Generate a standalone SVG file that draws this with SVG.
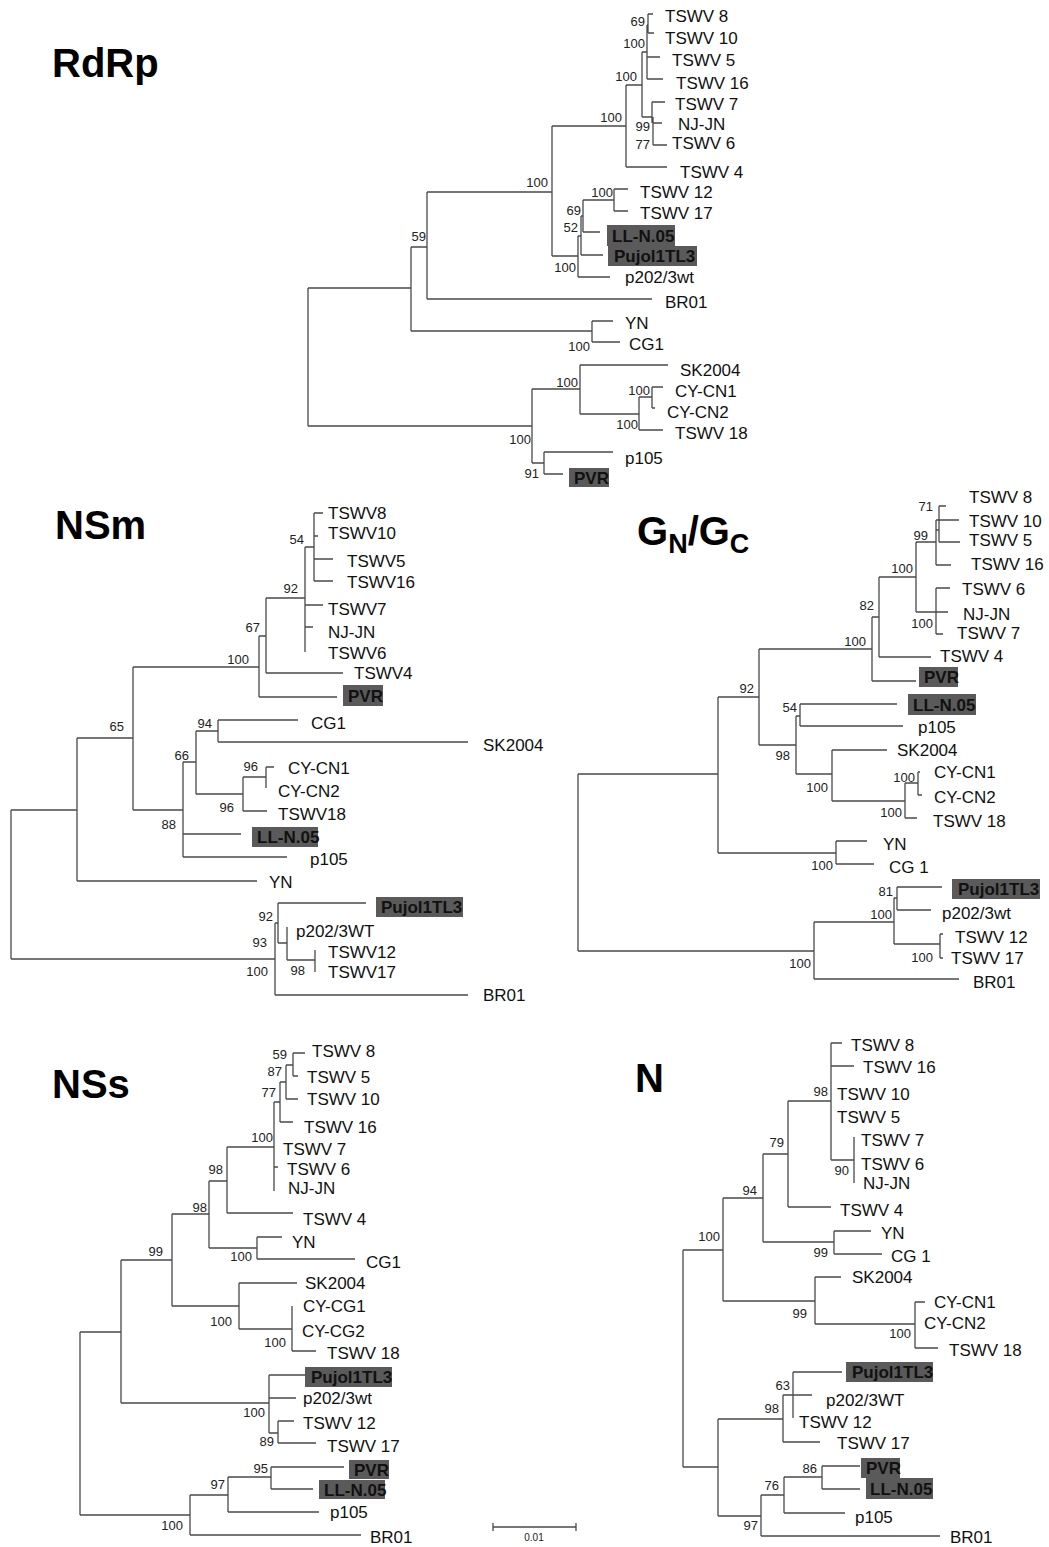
<svg xmlns="http://www.w3.org/2000/svg" width="1049" height="1547" viewBox="0 0 1049 1547">
<style>
.e{fill:none;stroke:#4a4a4a;stroke-width:1.3}
.l{font-family:"Liberation Sans",Arial,sans-serif;font-size:17px;fill:#111}
.s{font-family:"Liberation Sans",Arial,sans-serif;font-size:13px;fill:#222;text-anchor:end}
.b{fill:#5a5a5a}
.hb{font-family:"Liberation Sans",Arial,sans-serif;font-size:17px;font-weight:bold;fill:#111}
.t{font-family:"Liberation Sans",Arial,sans-serif;font-size:40px;font-weight:bold;fill:#000}
</style>
<rect width="1049" height="1547" fill="#fff"/>

<!-- ================= RdRp ================= -->
<g id="rdrp">
<text class="t" x="52" y="77" font-size="43">RdRp</text>
<g id="rdrp-connectors">
<path class="e" d="M308 288V426M308 288H411M411 247V331M411 247H427M427 192V299M427 192H552M427 299H652M552 126V256M552 126H626M626 85V167M626 85H642M626 167H667M642 52V117M642 52H647M647 25V79M647 25H648M648 14V33M648 14H653M648 33H654M647 57H660M647 79H663M642 117H652M652 102V123M652 102H665M653 117V145M653 123H662M653 145H667M552 256H578M578 236V277M578 236H581M581 216V255M581 216H583M583 200V232M583 200H614M614 189V211M614 189H628M614 211H628M583 232H600M581 255H603M578 277H610M411 331H592M592 321V342M592 321H613M592 342H620M308 426H532M532 389V463M532 389H580M580 365V414M580 365H668M580 414H639M639 397V430M639 397H652M652 387V408M652 387H663M652 408H655M639 430H663M532 463H544M544 452V474M544 452H613M544 474H563"/>
</g>
<g id="rdrp-TSWV8"><text class="l" x="665" y="22">TSWV 8</text></g>
<g id="rdrp-TSWV10"><text class="l" x="665" y="44">TSWV 10</text></g>
<g id="rdrp-TSWV5"><text class="l" x="672" y="66">TSWV 5</text></g>
<g id="rdrp-TSWV16"><text class="l" x="676" y="89">TSWV 16</text></g>
<g id="rdrp-TSWV7"><text class="l" x="675" y="110">TSWV 7</text></g>
<g id="rdrp-NJJN"><text class="l" x="678" y="130">NJ-JN</text></g>
<g id="rdrp-TSWV6"><text class="l" x="672" y="149">TSWV 6</text></g>
<g id="rdrp-TSWV4"><text class="l" x="680" y="178">TSWV 4</text></g>
<g id="rdrp-TSWV12"><text class="l" x="640" y="198">TSWV 12</text></g>
<g id="rdrp-TSWV17"><text class="l" x="640" y="219">TSWV 17</text></g>
<g id="rdrp-LLN05"><rect class="b" x="607" y="225" width="68" height="21"/><text class="hb" x="612" y="242">LL-N.05</text></g>
<g id="rdrp-Pujol1TL3"><rect class="b" x="608" y="246" width="89" height="20"/><text class="hb" x="614" y="262">Pujol1TL3</text></g>
<g id="rdrp-p202"><text class="l" x="625" y="283">p202/3wt</text></g>
<g id="rdrp-BR01"><text class="l" x="665" y="308">BR01</text></g>
<g id="rdrp-YN"><text class="l" x="625" y="329">YN</text></g>
<g id="rdrp-CG1"><text class="l" x="629" y="350">CG1</text></g>
<g id="rdrp-SK2004"><text class="l" x="680" y="376">SK2004</text></g>
<g id="rdrp-CYCN1"><text class="l" x="675" y="397">CY-CN1</text></g>
<g id="rdrp-CYCN2"><text class="l" x="667" y="418">CY-CN2</text></g>
<g id="rdrp-TSWV18"><text class="l" x="675" y="439">TSWV 18</text></g>
<g id="rdrp-p105"><text class="l" x="625" y="464">p105</text></g>
<g id="rdrp-PVR"><rect class="b" x="569" y="468" width="40" height="19"/><text class="hb" x="574" y="484">PVR</text></g>
<g id="rdrp-support">
<text class="s" x="645" y="26">69</text>
<text class="s" x="645" y="48">100</text>
<text class="s" x="637" y="81">100</text>
<text class="s" x="622" y="122">100</text>
<text class="s" x="650" y="131">99</text>
<text class="s" x="650" y="149">77</text>
<text class="s" x="548" y="187">100</text>
<text class="s" x="613" y="197">100</text>
<text class="s" x="581" y="215">69</text>
<text class="s" x="578" y="232">52</text>
<text class="s" x="426" y="241">59</text>
<text class="s" x="576" y="272">100</text>
<text class="s" x="590" y="351">100</text>
<text class="s" x="578" y="387">100</text>
<text class="s" x="650" y="395">100</text>
<text class="s" x="638" y="429">100</text>
<text class="s" x="531" y="444">100</text>
<text class="s" x="539" y="478">91</text>
</g>
</g>

<!-- ================= NSm ================= -->
<g id="nsm">
<text class="t" x="55" y="539" font-size="38">NSm</text>
<g id="nsm-connectors">
<path class="e" d="M314 513V581M314 513H323M314 536H318M314 559H333M314 581H333M305 547V652M305 547H314M305 605H323M305 627H313M266 598V673M266 598H305M266 673H343M259 636V697M259 636H266M259 697H337M133 667V810M133 667H259M218 720V742M218 720H298M218 742H468M196 731V794M196 731H218M183 762V857M183 762H196M133 810H183M243 777V811M196 794H243M266 767V788M243 777H266M266 767H274M243 811H267M183 834H241M183 857H287M77 738V881M77 738H133M77 881H257M11 810V959M11 810H77M11 959H275M275 923V995M275 995H468M275 923H278M278 903V943M278 903H366M278 943H287M287 927V960M287 960H315M315 950V972"/>
</g>
<g id="nsm-TSWV8"><text class="l" x="328" y="519">TSWV8</text></g>
<g id="nsm-TSWV10"><text class="l" x="328" y="539">TSWV10</text></g>
<g id="nsm-TSWV5"><text class="l" x="347" y="567">TSWV5</text></g>
<g id="nsm-TSWV16"><text class="l" x="347" y="588">TSWV16</text></g>
<g id="nsm-TSWV7"><text class="l" x="328" y="615">TSWV7</text></g>
<g id="nsm-NJJN"><text class="l" x="328" y="638">NJ-JN</text></g>
<g id="nsm-TSWV6"><text class="l" x="328" y="659">TSWV6</text></g>
<g id="nsm-TSWV4"><text class="l" x="354" y="679">TSWV4</text></g>
<g id="nsm-PVR"><rect class="b" x="343" y="685" width="40" height="21"/><text class="hb" x="348" y="702">PVR</text></g>
<g id="nsm-CG1"><text class="l" x="311" y="729">CG1</text></g>
<g id="nsm-SK2004"><text class="l" x="483" y="751">SK2004</text></g>
<g id="nsm-CYCN1"><text class="l" x="288" y="774">CY-CN1</text></g>
<g id="nsm-CYCN2"><text class="l" x="278" y="797">CY-CN2</text></g>
<g id="nsm-TSWV18"><text class="l" x="278" y="820">TSWV18</text></g>
<g id="nsm-LLN05"><rect class="b" x="252" y="827" width="66" height="20"/><text class="hb" x="257" y="843">LL-N.05</text></g>
<g id="nsm-p105"><text class="l" x="310" y="865">p105</text></g>
<g id="nsm-YN"><text class="l" x="269" y="888">YN</text></g>
<g id="nsm-Pujol1TL3"><rect class="b" x="376" y="897" width="87" height="20"/><text class="hb" x="381" y="913">Pujol1TL3</text></g>
<g id="nsm-p202"><text class="l" x="296" y="937">p202/3WT</text></g>
<g id="nsm-TSWV12"><text class="l" x="328" y="958">TSWV12</text></g>
<g id="nsm-TSWV17"><text class="l" x="328" y="978">TSWV17</text></g>
<g id="nsm-BR01"><text class="l" x="483" y="1001">BR01</text></g>
<g id="nsm-support">
<text class="s" x="304" y="544">54</text>
<text class="s" x="298" y="593">92</text>
<text class="s" x="260" y="632">67</text>
<text class="s" x="249" y="664">100</text>
<text class="s" x="124" y="731">65</text>
<text class="s" x="212" y="728">94</text>
<text class="s" x="189" y="760">66</text>
<text class="s" x="258" y="771">96</text>
<text class="s" x="234" y="812">96</text>
<text class="s" x="176" y="829">88</text>
<text class="s" x="273" y="921">92</text>
<text class="s" x="267" y="947">93</text>
<text class="s" x="268" y="976">100</text>
<text class="s" x="305" y="975">98</text>
</g>
</g>

<!-- ================= GN/GC ================= -->
<g id="gngc">
<text class="t" x="637" y="545">G<tspan font-size="27" dy="8">N</tspan><tspan dy="-8">/G</tspan><tspan font-size="27" dy="8">C</tspan></text>
<g id="gngc-connectors">
<path class="e" d="M939 506V542M939 506H946M939 542H960M936 520V565M936 520H959M936 565H951M936 530H939M916 542H936M916 542V612M916 612H948M936 588V634M936 588H950M936 634H943M879 577V657M879 577H916M879 657H931M872 617V681M872 617H879M872 681H916M759 649V745M759 649H872M800 704V726M800 704H897M800 726H903M796 716V774M796 716H800M759 745H796M796 774H832M832 750V801M832 750H887M832 801H905M905 783V818M905 818H917M905 783H918M918 772V795M918 772H920M918 795H922M718 697V853M718 697H759M718 853H836M836 841V864M836 841H867M836 864H874M578 774V951M578 774H718M578 951H814M814 922V979M814 979H959M814 922H894M894 898V944M894 898H897M897 887V910M897 887H942M897 910H931M894 944H940M940 934V958M940 934H943M940 958H943"/>
</g>
<g id="gngc-TSWV8"><text class="l" x="969" y="503">TSWV 8</text></g>
<g id="gngc-TSWV10"><text class="l" x="969" y="527">TSWV 10</text></g>
<g id="gngc-TSWV5"><text class="l" x="969" y="546">TSWV 5</text></g>
<g id="gngc-TSWV16"><text class="l" x="971" y="570">TSWV 16</text></g>
<g id="gngc-TSWV6"><text class="l" x="962" y="595">TSWV 6</text></g>
<g id="gngc-NJJN"><text class="l" x="963" y="620">NJ-JN</text></g>
<g id="gngc-TSWV7"><text class="l" x="957" y="639">TSWV 7</text></g>
<g id="gngc-TSWV4"><text class="l" x="940" y="662">TSWV 4</text></g>
<g id="gngc-PVR"><rect class="b" x="919" y="667" width="39" height="20"/><text class="hb" x="924" y="683">PVR</text></g>
<g id="gngc-LLN05"><rect class="b" x="908" y="694" width="68" height="21"/><text class="hb" x="913" y="711">LL-N.05</text></g>
<g id="gngc-p105"><text class="l" x="918" y="733">p105</text></g>
<g id="gngc-SK2004"><text class="l" x="897" y="756">SK2004</text></g>
<g id="gngc-CYCN1"><text class="l" x="934" y="778">CY-CN1</text></g>
<g id="gngc-CYCN2"><text class="l" x="934" y="803">CY-CN2</text></g>
<g id="gngc-TSWV18"><text class="l" x="933" y="827">TSWV 18</text></g>
<g id="gngc-YN"><text class="l" x="883" y="850">YN</text></g>
<g id="gngc-CG1"><text class="l" x="889" y="873">CG 1</text></g>
<g id="gngc-Pujol1TL3"><rect class="b" x="952" y="879" width="88" height="20"/><text class="hb" x="958" y="895">Pujol1TL3</text></g>
<g id="gngc-p202"><text class="l" x="942" y="919">p202/3wt</text></g>
<g id="gngc-TSWV12"><text class="l" x="955" y="943">TSWV 12</text></g>
<g id="gngc-TSWV17"><text class="l" x="951" y="964">TSWV 17</text></g>
<g id="gngc-BR01"><text class="l" x="973" y="988">BR01</text></g>
<g id="gngc-support">
<text class="s" x="933" y="511">71</text>
<text class="s" x="928" y="540">99</text>
<text class="s" x="913" y="573">100</text>
<text class="s" x="874" y="610">82</text>
<text class="s" x="933" y="628">100</text>
<text class="s" x="866" y="646">100</text>
<text class="s" x="754" y="693">92</text>
<text class="s" x="797" y="712">54</text>
<text class="s" x="790" y="760">98</text>
<text class="s" x="915" y="782">100</text>
<text class="s" x="828" y="792">100</text>
<text class="s" x="902" y="817">100</text>
<text class="s" x="833" y="870">100</text>
<text class="s" x="893" y="896">81</text>
<text class="s" x="892" y="919">100</text>
<text class="s" x="933" y="962">100</text>
<text class="s" x="811" y="968">100</text>
</g>
</g>

<!-- ================= NSs ================= -->
<g id="nss">
<text class="t" x="52" y="1098" font-size="37">NSs</text>
<g id="nss-connectors">
<path class="e" d="M293 1053V1076M293 1053H305M293 1076H298M286 1065V1099M286 1065H293M286 1099H298M280 1082V1122M280 1082H286M280 1122H293M274 1102V1191M274 1102H280M274 1167H278M227 1147V1213M227 1147H274M227 1213H293M209 1181V1248M209 1181H227M209 1248H257M257 1237V1259M257 1237H282M257 1259H355M172 1214V1306M172 1214H209M172 1306H239M239 1283V1329M239 1283H297M239 1329H292M292 1306V1351M292 1351H316M121 1260V1403M121 1260H172M121 1403H269M269 1375V1433M269 1375H305M269 1398H296M269 1433H278M278 1421V1443M278 1421H294M278 1443H316M80 1332V1515M80 1332H121M80 1515H190M190 1495V1535M190 1535H361M190 1495H228M228 1477V1512M228 1512H319M228 1477H271M271 1467V1489M271 1467H344M271 1489H313"/>
</g>
<g id="nss-TSWV8"><text class="l" x="312" y="1057">TSWV 8</text></g>
<g id="nss-TSWV5"><text class="l" x="307" y="1083">TSWV 5</text></g>
<g id="nss-TSWV10"><text class="l" x="307" y="1105">TSWV 10</text></g>
<g id="nss-TSWV16"><text class="l" x="304" y="1133">TSWV 16</text></g>
<g id="nss-TSWV7"><text class="l" x="283" y="1155">TSWV 7</text></g>
<g id="nss-TSWV6"><text class="l" x="287" y="1175">TSWV 6</text></g>
<g id="nss-NJJN"><text class="l" x="288" y="1194">NJ-JN</text></g>
<g id="nss-TSWV4"><text class="l" x="303" y="1225">TSWV 4</text></g>
<g id="nss-YN"><text class="l" x="292" y="1248">YN</text></g>
<g id="nss-CG1"><text class="l" x="366" y="1268">CG1</text></g>
<g id="nss-SK2004"><text class="l" x="305" y="1289">SK2004</text></g>
<g id="nss-CYCG1"><text class="l" x="303" y="1312">CY-CG1</text></g>
<g id="nss-CYCG2"><text class="l" x="302" y="1337">CY-CG2</text></g>
<g id="nss-TSWV18"><text class="l" x="327" y="1359">TSWV 18</text></g>
<g id="nss-Pujol1TL3"><rect class="b" x="305" y="1367" width="87" height="20"/><text class="hb" x="311" y="1383">Pujol1TL3</text></g>
<g id="nss-p202"><text class="l" x="303" y="1404">p202/3wt</text></g>
<g id="nss-TSWV12"><text class="l" x="303" y="1429">TSWV 12</text></g>
<g id="nss-TSWV17"><text class="l" x="327" y="1452">TSWV 17</text></g>
<g id="nss-PVR"><rect class="b" x="349" y="1460" width="40" height="19"/><text class="hb" x="354" y="1476">PVR</text></g>
<g id="nss-LLN05"><rect class="b" x="319" y="1480" width="66" height="19"/><text class="hb" x="324" y="1496">LL-N.05</text></g>
<g id="nss-p105"><text class="l" x="330" y="1518">p105</text></g>
<g id="nss-BR01"><text class="l" x="370" y="1543">BR01</text></g>
<g id="nss-support">
<text class="s" x="287" y="1059">59</text>
<text class="s" x="282" y="1076">87</text>
<text class="s" x="276" y="1097">77</text>
<text class="s" x="273" y="1142">100</text>
<text class="s" x="223" y="1174">98</text>
<text class="s" x="207" y="1212">98</text>
<text class="s" x="163" y="1256">99</text>
<text class="s" x="252" y="1261">100</text>
<text class="s" x="232" y="1326">100</text>
<text class="s" x="286" y="1347">100</text>
<text class="s" x="265" y="1417">100</text>
<text class="s" x="274" y="1446">89</text>
<text class="s" x="268" y="1473">95</text>
<text class="s" x="225" y="1489">97</text>
<text class="s" x="183" y="1530">100</text>
</g>
</g>

<!-- scale bar -->
<g id="scalebar">
<path class="e" d="M493 1527H576M493 1523V1531M576 1523V1531"/>
<text x="534" y="1541" font-family="Liberation Sans, Arial, sans-serif" font-size="10" text-anchor="middle" fill="#222">0.01</text>
</g>

<!-- ================= N ================= -->
<g id="n">
<text class="t" x="635" y="1092">N</text>
<g id="n-connectors">
<path class="e" d="M831 1043V1160M831 1043H842M831 1066H854M831 1160H854M854 1137V1183M788 1101V1207M788 1101H831M788 1207H831M763 1154V1242M763 1154H788M763 1242H834M834 1231V1254M834 1231H871M834 1254H882M723 1198V1301M723 1198H763M723 1301H815M815 1277V1324M815 1277H841M815 1324H915M915 1302V1348M915 1302H925M915 1348H938M683 1250V1467M683 1250H723M683 1467H718M718 1419V1516M718 1419H783M718 1516H761M783 1395V1442M783 1442H820M783 1395H812M793 1372V1418M793 1372H842M761 1495V1536M761 1536H940M761 1495H784M784 1477V1513M784 1513H845M784 1477H822M822 1466V1489M822 1466H860M822 1489H860"/>
</g>
<g id="n-TSWV8"><text class="l" x="851" y="1051">TSWV 8</text></g>
<g id="n-TSWV16"><text class="l" x="863" y="1073">TSWV 16</text></g>
<g id="n-TSWV10"><text class="l" x="837" y="1100">TSWV 10</text></g>
<g id="n-TSWV5"><text class="l" x="837" y="1123">TSWV 5</text></g>
<g id="n-TSWV7"><text class="l" x="861" y="1146">TSWV 7</text></g>
<g id="n-TSWV6"><text class="l" x="861" y="1170">TSWV 6</text></g>
<g id="n-NJJN"><text class="l" x="863" y="1189">NJ-JN</text></g>
<g id="n-TSWV4"><text class="l" x="840" y="1216">TSWV 4</text></g>
<g id="n-YN"><text class="l" x="881" y="1239">YN</text></g>
<g id="n-CG1"><text class="l" x="891" y="1262">CG 1</text></g>
<g id="n-SK2004"><text class="l" x="852" y="1283">SK2004</text></g>
<g id="n-CYCN1"><text class="l" x="934" y="1308">CY-CN1</text></g>
<g id="n-CYCN2"><text class="l" x="924" y="1329">CY-CN2</text></g>
<g id="n-TSWV18"><text class="l" x="949" y="1356">TSWV 18</text></g>
<g id="n-Pujol1TL3"><rect class="b" x="846" y="1362" width="87" height="20"/><text class="hb" x="852" y="1378">Pujol1TL3</text></g>
<g id="n-p202"><text class="l" x="826" y="1406">p202/3WT</text></g>
<g id="n-TSWV12"><text class="l" x="799" y="1428">TSWV 12</text></g>
<g id="n-TSWV17"><text class="l" x="837" y="1449">TSWV 17</text></g>
<g id="n-PVR"><rect class="b" x="861" y="1458" width="39" height="20"/><text class="hb" x="866" y="1474">PVR</text></g>
<g id="n-LLN05"><rect class="b" x="866" y="1478" width="67" height="21"/><text class="hb" x="870" y="1495">LL-N.05</text></g>
<g id="n-p105"><text class="l" x="855" y="1523">p105</text></g>
<g id="n-BR01"><text class="l" x="950" y="1543">BR01</text></g>
<g id="n-support">
<text class="s" x="828" y="1096">98</text>
<text class="s" x="784" y="1147">79</text>
<text class="s" x="849" y="1175">90</text>
<text class="s" x="757" y="1195">94</text>
<text class="s" x="720" y="1241">100</text>
<text class="s" x="828" y="1257">99</text>
<text class="s" x="807" y="1318">99</text>
<text class="s" x="911" y="1338">100</text>
<text class="s" x="790" y="1390">63</text>
<text class="s" x="779" y="1413">98</text>
<text class="s" x="817" y="1473">86</text>
<text class="s" x="779" y="1490">76</text>
<text class="s" x="758" y="1530">97</text>
</g>
</g>
</svg>
